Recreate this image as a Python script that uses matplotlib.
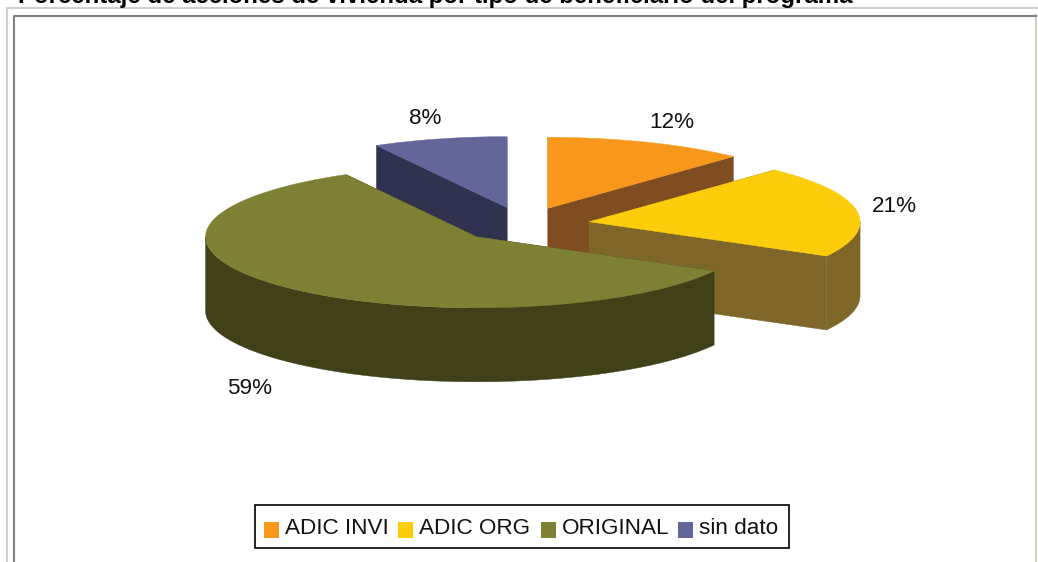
import numpy as np
import matplotlib
matplotlib.use("Agg")
import matplotlib.pyplot as plt
from matplotlib.patches import Rectangle

plt.rcParams['font.family'] = ['Liberation Sans', 'DejaVu Sans']

titulo = "Porcentaje de acciones de vivienda por tipo de beneficiario del programa"
categorias = ["ADIC INVI", "ADIC ORG", "ORIGINAL", "sin dato"]
porcentajes = [12, 21, 59, 8]

cor_topo = ["#F7981D", "#FDCD0B", "#7E8034", "#646599"]
cor_lado = ["#7F4D1F", "#7F6729", "#404118", "#313250"]

# geometria do pie em pixels
cx, cy = 523.5, 224.5
rx, ry = 271, 71
altura = 74
explode = 0.245

label_pos = [(672, 122), (894, 206), (250, 388), (425, 118)]
legend_x = [264, 398, 541, 678]

fig = plt.figure(figsize=(10.38, 5.62), dpi=100)
ax = fig.add_axes([0, 0, 1, 1])
ax.set_xlim(0, 1038)
ax.set_ylim(562, 0)
ax.axis("off")

# molduras
ax.plot([7, 7, 1038], [562, 7.5, 7.5], color="#D4D0C8", lw=1.5)
ax.plot([1035.5, 1035.5], [15, 562], color="#D4D0C8", lw=1.5)
ax.plot([13.5, 13.5, 1036], [562, 15.5, 15.5], color="#808080", lw=1.5)

ax.text(18, 3, titulo, fontsize=17.25, fontweight="bold", va="baseline", ha="left")

# angulos: zero em cima, sentido horario
fim = np.cumsum(porcentajes) * 3.6
ini = fim - np.array(porcentajes) * 3.6


def ponto(x0, y0, ang):
    t = np.radians(ang)
    return x0 + rx * np.sin(t), y0 - ry * np.cos(t)


# desenha de tras para frente
for i in [3, 0, 1, 2]:
    meio = (ini[i] + fim[i]) / 2
    x0, y0 = ponto(cx, cy, meio)
    x0 = cx + (x0 - cx) * explode
    y0 = cy + (y0 - cy) * explode

    # faces radiais visiveis
    for ang in [ini[i], fim[i]]:
        px, py = ponto(x0, y0, ang)
        ax.fill([x0, px, px, x0], [y0, py, py + altura, y0 + altura],
                color=cor_lado[i], lw=0.3)

    # parede externa (so a parte da frente)
    a = max(ini[i], 90)
    b = min(fim[i], 270)
    if a < b:
        angs = np.linspace(a, b, 100)
        xs, ys = ponto(x0, y0, angs)
        ax.fill(np.r_[xs, xs[::-1]], np.r_[ys, ys[::-1] + altura],
                color=cor_lado[i], lw=0.3)

    # topo
    angs = np.linspace(ini[i], fim[i], 150)
    xs, ys = ponto(x0, y0, angs)
    ax.fill(np.r_[x0, xs], np.r_[y0, ys], color=cor_topo[i], lw=0.3)

for (x, y), p in zip(label_pos, porcentajes):
    ax.text(x, y, f"{p}%", fontsize=16.2, ha="center", va="center", color="#111111")

# legenda
ax.add_patch(Rectangle((254.5, 504.5), 534, 43.5, fc="white", ec="black", lw=1.2))
for x, nome, cor in zip(legend_x, categorias, cor_topo):
    ax.add_patch(Rectangle((x, 522), 15, 15.5, fc=cor, ec="none"))
    ax.text(x + 21, 528, nome, fontsize=16.2, ha="left", va="center", color="#111111")

fig.savefig("out.png", dpi=100)
